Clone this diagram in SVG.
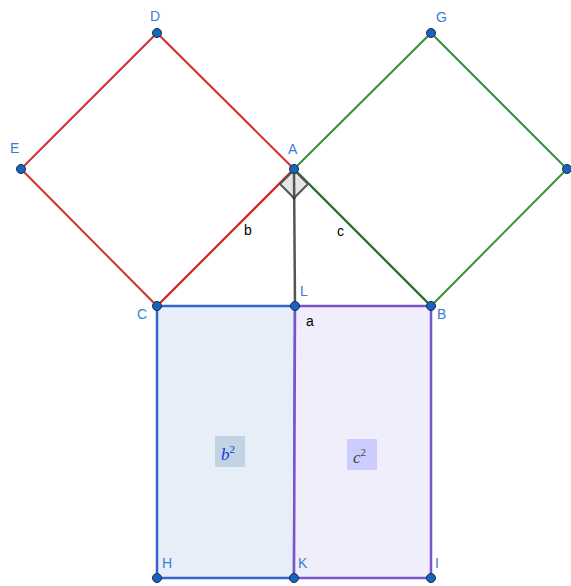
<svg xmlns="http://www.w3.org/2000/svg" width="571" height="586" viewBox="0 0 571 586">
<style>
.pt{fill:#1565c0;stroke:#1a2a44;stroke-width:1}
.lbl{font-family:"Liberation Sans",Arial,sans-serif;font-size:14px;fill:#3b7dd8}
.seg{font-family:"Liberation Sans",Arial,sans-serif;font-size:14px;fill:#000}
.red{stroke:#d32f2f;stroke-width:2;fill:none}
.green{stroke:#388e3c;stroke-width:2;fill:none}
</style>
<rect width="571" height="586" fill="#fff"/>
<g id="rectBlue"><polygon points="157,306 295,306 294,578 157,578" fill="#e8eef8" stroke="#3366cc" stroke-width="2.5"/></g>
<g id="rectPurple"><polygon points="295,306 431,306 431,578 294,578" fill="#f0eefa" stroke="#7755cc" stroke-width="2.5"/></g>
<g id="connectors">
<polygon class="red" points="294,169 157,33 21,169 157,306"/>
<line class="red" x1="157" y1="306" x2="294" y2="169"/>
<polygon class="green" points="294,169 431,33 567,169 431,306"/>
<line x1="294" y1="169" x2="431" y2="306" stroke="#2e6b2e" stroke-width="2"/>
<polygon points="294,170 280,184 294,198 308,184" fill="#e6e6e6" stroke="#555" stroke-width="2"/>
<line x1="294" y1="169" x2="295" y2="306" stroke="#555" stroke-width="2.5"/>
<circle cx="294" cy="198" r="1.5" fill="#333"/>
</g>
<g id="b2"><rect x="215" y="436" width="30" height="31" fill="#c0d4e6"/><text x="221" y="460" font-family="Liberation Serif,serif" font-style="italic" font-size="17" fill="#2233dd">b<tspan font-style="normal" font-size="11" dy="-7">2</tspan></text></g>
<g id="c2"><rect x="347" y="439" width="30" height="31" fill="#ccccff"/><text x="353" y="463" font-family="Liberation Serif,serif" font-style="italic" font-size="17" fill="#444">c<tspan font-style="normal" font-size="11" dy="-7">2</tspan></text></g>
<g id="labels">
<text class="seg" x="244" y="235">b</text>
<text class="seg" x="337" y="236">c</text>
<text class="seg" x="306" y="326">a</text>
</g>
<g id="pD"><circle class="pt" cx="157" cy="33" r="4.5"/><text class="lbl" x="150" y="21">D</text></g>
<g id="pE"><circle class="pt" cx="21" cy="169" r="4.5"/><text class="lbl" x="10" y="153">E</text></g>
<g id="pG"><circle class="pt" cx="431" cy="33" r="4.5"/><text class="lbl" x="436" y="22">G</text></g>
<g id="pF"><circle class="pt" cx="567" cy="169" r="4.5"/></g>
<g id="pA"><circle class="pt" cx="294" cy="169" r="4.5"/><text class="lbl" x="288" y="154">A</text></g>
<g id="pC"><circle class="pt" cx="157" cy="306" r="4.5"/><text class="lbl" x="137" y="319">C</text></g>
<g id="pL"><circle class="pt" cx="295" cy="306" r="4.5"/><text class="lbl" x="300" y="296">L</text></g>
<g id="pB"><circle class="pt" cx="431" cy="306" r="4.5"/><text class="lbl" x="437" y="319">B</text></g>
<g id="pH"><circle class="pt" cx="157" cy="578" r="4.5"/><text class="lbl" x="162" y="568">H</text></g>
<g id="pK"><circle class="pt" cx="294" cy="578" r="4.5"/><text class="lbl" x="298" y="568">K</text></g>
<g id="pI"><circle class="pt" cx="431" cy="578" r="4.5"/><text class="lbl" x="435" y="568">I</text></g>
</svg>
